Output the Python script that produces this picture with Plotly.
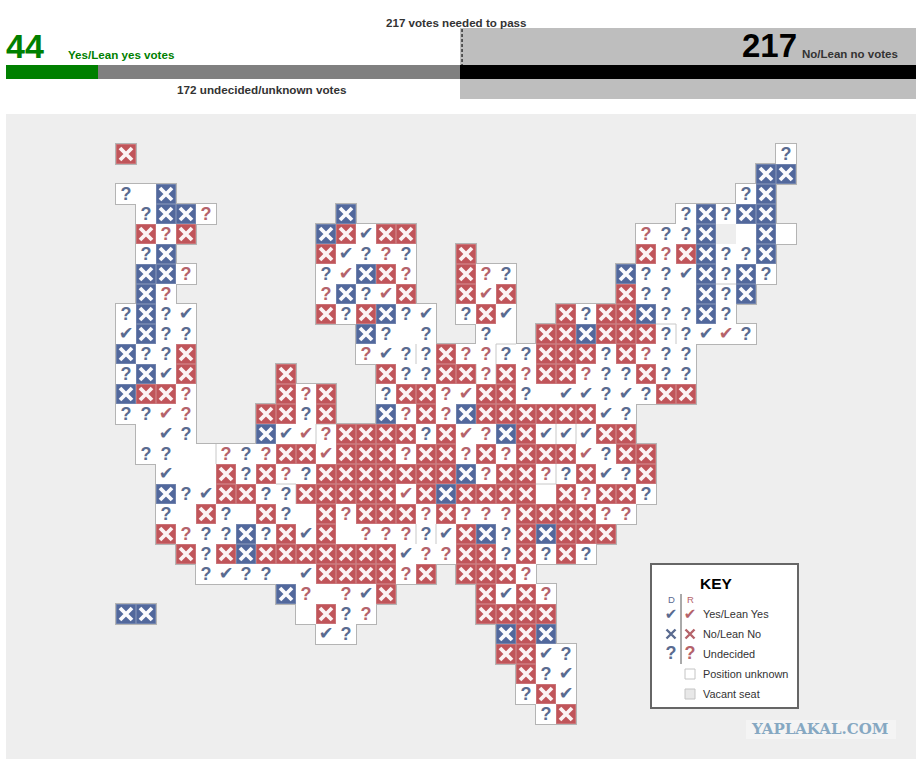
import plotly.graph_objects as go

WIDTH = 916
HEIGHT = 759

# x red no, X blue no, v red yes, V blue yes, q red undecided, Q blue undecided,
# o position unknown, _ vacant, . no seat
seat_rows = [
    "x................................Q",
    "................................XX",
    "QoX............................QX.",
    ".QXXq......X................QXQXX.",
    ".xqx......XxVxx...........qQQX_oXo",
    ".QX.......xVQqQ..x........xqxXQQX.",
    ".XXq......QvXxq..xqQ.....XQQVXQXQ.",
    ".Xq.......qXQvx..xvx.....xQQoXQX..",
    "QXQV......xQxXQV.QxV..xQxxXQQXQ...",
    "VXQQ........XQoQ..Qo.xxXxxxQQVvQ..",
    "XQQx........qVQQxqqQQxxxQxqQQ.....",
    "QXVx....x....xQQxxqxqxxqQQxQQ.....",
    "Xxxq....xqx..QxxqvxxQoVVQVQxx.....",
    "QQvq...xxQx..XqxqXxxxxxxVQ........",
    ".oVQ...XVvqxxxxQxvqXxVVVxx........",
    ".QQooqQqxxvxxxqxxqxqxxxvQxx.......",
    "..VooxQxqQxxxxxxxXqxxqQxVQx.......",
    "..XQVxxQQxxxxxvxXxxxxoxqxxQ.......",
    "..QoxQoxQoxqxxxqxqqqxxxxqq........",
    "..xqQQXQxVxoqqqQVxXQxXxxx.........",
    "...xQxXxxxxxxxVqqxxQxQxQ..........",
    "....QVQQoVxxxxqx.xxxq.............",
    "........XqoqVx....xVxq............",
    "XX.......oxQq.....xxxx............",
    "..........VQ.......XxX............",
    "...................xxVQ...........",
    "....................xQV...........",
    "....................QxV...........",
    ".....................Qx...........",
]

# faint state borders inside white areas: (column edge, row) and (row edge, column)
border_v = [(15, 10), (19, 10), (18, 11), (19, 11), (28, 9), (22, 14), (23, 14), (10, 14), (5, 15), (9, 17), (15, 19), (16, 19), (22, 16)]
border_h = [(10, 19), (7, 30), (9, 27), (14, 10), (17, 8), (17, 21)]

bar_names = ["Yes/Lean yes", "Undecided/unknown", "No/Lean no"]
bar_votes = [44, 172, 217]
bar_colors = ["#008000", "#808080", "#000000"]
votes_to_pass = 217

key_labels = ["Yes/Lean Yes", "No/Lean No", "Undecided", "Position unknown", "Vacant seat"]

RED = "#c0555a"
BLUE = "#52689c"
RED_LINE = "#cb7276"
BLUE_LINE = "#6f82ad"
RED_MARK = "#b5636a"
BLUE_MARK = "#5a6b90"
OUTLINE = "#b4b4b4"
PANEL = "#eeeeee"
CELL = 20
GLYPH_DROP = 1 / CELL


def col_of(px):
    return (px - 126) / CELL


def row_of(py):
    return (py - 154) / CELL


def paper_x(px):
    return px / WIDTH


def paper_y(py):
    return 1 - py / HEIGHT


def cells_for(codes):
    xs, ys = [], []
    for r, row in enumerate(seat_rows):
        for c, code in enumerate(row):
            if code in codes:
                xs.append(c)
                ys.append(r)
    return xs, ys


def square_trace(xs, ys, size, fill, line_color=None):
    return go.Scatter(x=xs, y=ys, mode="markers", hoverinfo="skip", showlegend=False,
                      marker=dict(symbol="square", size=size, color=fill,
                                  line=dict(width=1 if line_color else 0, color=line_color)))


def cross_trace(xs, ys, color, width=3.8, size=12):
    return go.Scatter(x=xs, y=ys, mode="markers", hoverinfo="skip", showlegend=False,
                      marker=dict(symbol="x-thin", size=size, color=color, line=dict(width=width, color=color)))


def glyph_trace(xs, ys, glyph, color, family, size, bold=False):
    ys = [y + GLYPH_DROP for y in ys]
    return go.Scatter(x=xs, y=ys, mode="text", text=[glyph] * len(xs), hoverinfo="skip", showlegend=False,
                      textposition="middle center",
                      textfont=dict(family=family, size=size, color=color, weight="bold" if bold else "normal"))


data = []

# bars along the top
for name, votes, color in zip(bar_names, bar_votes, bar_colors):
    data.append(go.Bar(x=[votes], y=[0], name=name, orientation="h", width=1, marker=dict(color=color, line=dict(width=0)),
                       xaxis="x2", yaxis="y2", hoverinfo="skip", showlegend=False))

# the map: an oversize grey layer first, so only the outer edge stays visible
xs, ys = cells_for("xXvVqQo_")
data.append(square_trace(xs, ys, 22, OUTLINE))
xs, ys = cells_for("vVqQo")
data.append(square_trace(xs, ys, 20, "#ffffff"))
xs, ys = cells_for("_")
data.append(square_trace(xs, ys, 20, PANEL))

edge_x, edge_y = [], []
for k, r in border_v:
    edge_x += [k - 0.5, k - 0.5, None]
    edge_y += [r - 0.5, r + 0.5, None]
for k, c in border_h:
    edge_x += [c - 0.5, c + 0.5, None]
    edge_y += [k - 0.5, k - 0.5, None]
data.append(go.Scatter(x=edge_x, y=edge_y, mode="lines", line=dict(color="#c8c8c8", width=1),
                       hoverinfo="skip", showlegend=False))

xs, ys = cells_for("x")
data.append(square_trace(xs, ys, 19, RED, RED_LINE))
data.append(cross_trace(xs, ys, "#fbf3f3"))
xs, ys = cells_for("X")
data.append(square_trace(xs, ys, 19, BLUE, BLUE_LINE))
data.append(cross_trace(xs, ys, "#fbfbfd"))

xs, ys = cells_for("V")
data.append(glyph_trace(xs, ys, "\u2714", BLUE_MARK, "DejaVu Sans", 17.5))
xs, ys = cells_for("v")
data.append(glyph_trace(xs, ys, "\u2714", RED_MARK, "DejaVu Sans", 17.5))
xs, ys = cells_for("Q")
data.append(glyph_trace(xs, ys, "?", BLUE_MARK, "Liberation Sans", 18, True))
xs, ys = cells_for("q")
data.append(glyph_trace(xs, ys, "?", RED_MARK, "Liberation Sans", 18, True))

# key symbols
key_d = col_of(671)
key_r = col_of(690)
data.append(glyph_trace([key_d], [row_of(614)], "\u2714", BLUE_MARK, "DejaVu Sans", 15))
data.append(glyph_trace([key_r], [row_of(614)], "\u2714", RED_MARK, "DejaVu Sans", 15))
data.append(cross_trace([key_d], [row_of(634)], BLUE_MARK, 2.4, 9))
data.append(cross_trace([key_r], [row_of(634)], RED_MARK, 2.4, 9))
data.append(glyph_trace([key_d], [row_of(653)], "?", BLUE_MARK, "Liberation Sans", 18, True))
data.append(glyph_trace([key_r], [row_of(653)], "?", RED_MARK, "Liberation Sans", 18, True))
data.append(square_trace([key_r], [row_of(674)], 10, "#ffffff", "#c4c4c4"))
data.append(square_trace([key_r], [row_of(694)], 10, "#e8e8e8", "#c4c4c4"))


def rect(x0, y0, x1, y1, fill, line_color=None, line_width=0):
    return dict(type="rect", xref="paper", yref="paper", layer="below",
                x0=paper_x(x0), x1=paper_x(x1), y0=paper_y(y0), y1=paper_y(y1),
                fillcolor=fill, line=dict(color=line_color, width=line_width))


shapes = [
    rect(460, 28, WIDTH, 99, "#bebebe"),
    rect(6, 114, WIDTH, HEIGHT, PANEL),
    rect(651, 564, 798, 708, "#ffffff", "#666666", 2),
    rect(746, 720, 896, 739, "#f4f4f4"),
    dict(type="line", xref="paper", yref="paper", x0=paper_x(681), x1=paper_x(681), y0=paper_y(594), y1=paper_y(664),
         line=dict(color="#555555", width=1)),
    dict(type="line", xref="x2", yref="paper", x0=votes_to_pass, x1=votes_to_pass, y0=paper_y(29), y1=paper_y(65),
         line=dict(color="#333333", width=1.5, dash="3px,2px")),
]


def label(px, py, text, size=10.9, color="#333333", anchor="left", bold=False, family="Liberation Sans"):
    return dict(x=paper_x(px), y=paper_y(py), xref="paper", yref="paper", text=text, showarrow=False,
                xanchor=anchor, yanchor="middle", align=anchor,
                font=dict(family=family, size=size, color=color, weight="bold" if bold else "normal"))


annotations = [
    label(456, 23, f"{votes_to_pass} votes needed to pass", size=11.6, anchor="center", bold=True),
    label(4, 46, str(bar_votes[0]), size=34, color="#008000", bold=True),
    label(66, 54, "Yes/Lean yes votes", size=11.6, color="#008000", bold=True),
    label(740, 46, str(bar_votes[2]), size=33, color="#000000", bold=True),
    label(800, 54, "No/Lean no votes", size=11.5, color="#333333", bold=True),
    label(262, 90, f"{bar_votes[1]} undecided/unknown votes", size=11.7, anchor="center", bold=True),
    label(716, 583, "KEY", size=15.5, color="#000000", anchor="center", bold=True),
    label(671, 599, "D", size=9.5, color="#5a6b90", anchor="center"),
    label(690, 599, "R", size=9.5, color="#b5636a", anchor="center"),
    label(749, 729, "YAPLAKAL.COM", size=15, color="#86a8c2", bold=True, family="DejaVu Serif"),
]
for i, text in enumerate(key_labels):
    annotations.append(label(701, 614 + 20 * i, text))

layout = go.Layout(
    width=WIDTH,
    height=HEIGHT,
    margin=dict(l=0, r=0, t=0, b=0),
    paper_bgcolor="#ffffff",
    plot_bgcolor="rgba(0,0,0,0)",
    barmode="stack",
    showlegend=False,
    xaxis=dict(domain=[0, 1], range=[col_of(0), col_of(WIDTH)], visible=False, fixedrange=True),
    yaxis=dict(domain=[0, 1], range=[row_of(HEIGHT), row_of(0)], visible=False, fixedrange=True),
    xaxis2=dict(domain=[paper_x(6), paper_x(916)], range=[0, sum(bar_votes)], anchor="y2", visible=False, fixedrange=True),
    yaxis2=dict(domain=[paper_y(79), paper_y(65)], range=[-0.5, 0.5], anchor="x2", visible=False, fixedrange=True),
    shapes=shapes,
    annotations=annotations,
)

fig = go.Figure(data=data, layout=layout)
fig.write_html("out.html", config={"displayModeBar": False},
               post_script="document.body.style.margin='0';document.body.style.overflow='hidden';")
